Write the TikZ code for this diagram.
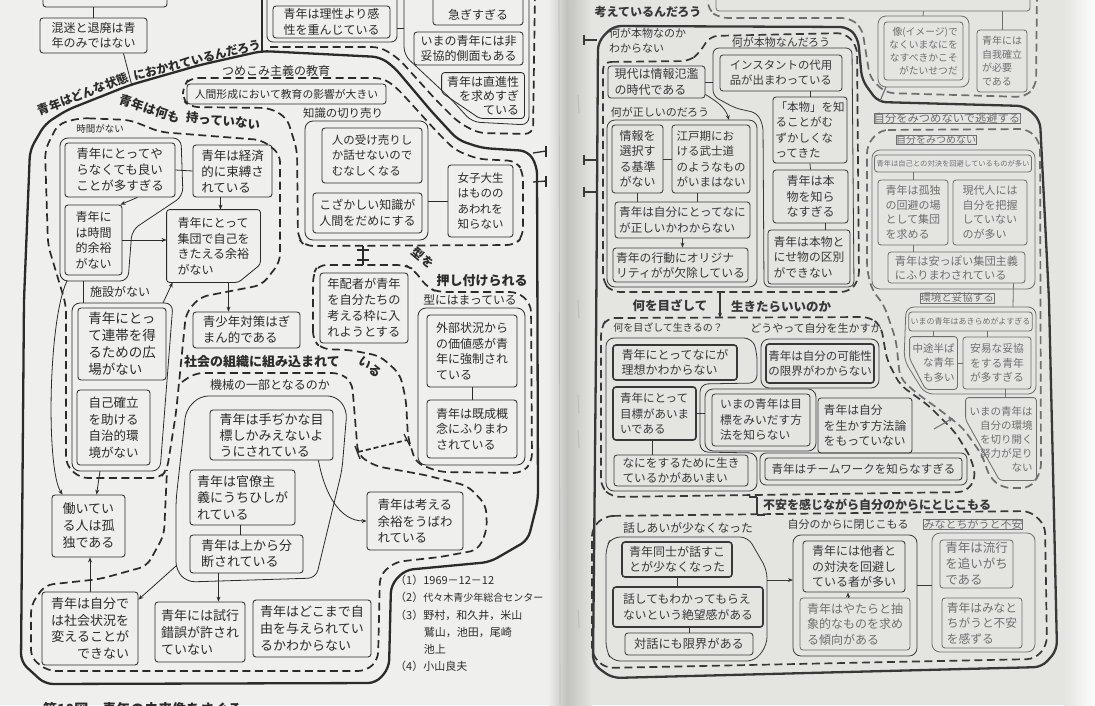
\documentclass[tikz,border=0pt]{standalone}
\usepackage{fontspec}
\newfontfamily\jp{Noto Sans CJK JP}
\usetikzlibrary{arrows.meta}
\definecolor{ink}{HTML}{2B2B2B}
\definecolor{inkr}{HTML}{383838}
\definecolor{inkf}{HTML}{6E6E6E}
\definecolor{pageL}{HTML}{EFEFED}
\definecolor{pageR}{HTML}{E4E4E1}
\definecolor{gut}{HTML}{C2C2BF}
\newcommand{\jfs}[2]{\jp\fontsize{#1}{#2}\selectfont}
\newcommand{\bxx}[7]{%
  \pgfmathsetmacro{\mybw}{#4-#2}\pgfmathsetmacro{\mybh}{#5-#3}%
  \pgfmathsetmacro{\mybx}{(#2+#4)/2}\pgfmathsetmacro{\myby}{(#3+#5)/2}%
  \node[bx,minimum width=\mybw pt,minimum height=\mybh pt,#6] (#1) at (\mybx,\myby) {#7};}
\tikzset{
  bx/.style={draw=ink, line width=0.85pt, rounded corners=3pt, inner sep=2pt, font=\jfs{12}{15.5}, text=ink, align=left},
  bxb/.style={line width=1.6pt},
  bxline/.style={draw=ink, line width=0.85pt, rounded corners=3pt},
  fd/.style={draw=inkf, text=inkf},
  grp/.style={draw=ink, line width=0.8pt, rounded corners=8pt},
  thk/.style={draw=ink, line width=2.3pt, rounded corners=8pt},
  dsh/.style={draw=ink, line width=1.7pt, dash pattern=on 8pt off 4.5pt, rounded corners=8pt},
  lbl/.style={font=\jfs{11}{13}, text=ink, inner sep=0pt},
  ttl/.style={font=\jfs{12.5}{15}\bfseries, text=ink, inner sep=0pt},
  con/.style={draw=ink, line width=0.8pt},
  arr/.style={con, -{Stealth[length=5pt,width=4pt]}},
  tick/.style={draw=ink, line width=1.3pt},
}
\begin{document}
\begin{tikzpicture}[x=1pt,y=-1pt]
\useasboundingbox (0,0) rectangle (1095,705);
% ---------- paper ----------
\fill[pageL] (0,0) rectangle (552,705);
\shade[left color=pageL, right color=gut] (548,0) rectangle (567,705);
\shade[left color=gut, right color=pageR] (567,0) rectangle (592,705);
\fill[pageR] (592,0) rectangle (1064,705);
\shade[left color=pageR, right color=white!94!pageR] (1064,0) rectangle (1095,705);
\draw[gray!55, line width=0.6pt] (559,0) -- (560,705);
\draw[gray!45, line width=0.5pt] (574,0) -- (573,705);
\foreach \yy in {95,300,395,430,610} {\draw[gray!50, line width=1.2pt] (578,\yy) -- (579,\yy+18);}

% =================== LEFT PAGE ===================
\draw[thk] (262,51) -- (380,57) -- (394,67) -- (432,112) -- (458,140) -- (482,148) -- (528,151) -- (537,166) -- (538,500) -- (528,540) -- (490,562) -- (405,570) -- (391,585) -- (389,668) -- (376,683) -- (45,684) -- (21,662) -- (24,300) -- (30,150) -- (45,124) -- (67,110) -- (130,85) -- (200,65) -- cycle;
\draw[con, line width=1.1pt] (262,0) -- (262,51);
\node[ttl, font=\jfs{12}{14}\bfseries, rotate=21] (lt1) at (83,94) {青年はどんな状態};
\node[ttl, font=\jfs{12}{14}\bfseries, rotate=14] (lt2) at (197,60) {におかれているんだろう};

\bxx{btop}{43}{-12}{167}{7}{}{}
\bxx{bkonmei}{40}{18}{147}{53}{}{混迷と退廃は青\\年のみではない}
\draw[con] (bkonmei.north) -- (bkonmei.north |- btop.south);
\coordinate (cLa) at (132,86);
\draw[con] ([xshift=30pt]bkonmei.south) -- (cLa);

\draw[grp, rounded corners=6pt] (267,-8) rectangle (397,42);
\bxx{brisei}{273}{6}{390}{38}{}{青年は理性より感\\性を重んじている}
\draw[grp] (404,-8) -- (404,55) -- (450,98) -- (472,122) -- (529,125) -- (529,-8);
\coordinate (gRiseiE) at (397,28); \coordinate (gRightW) at (404,28);
\draw[con] (gRiseiE) -- (gRightW);
\bxx{bisogi}{433}{-10}{523}{25}{}{\phantom{急}\\急ぎすぎる}
\bxx{bhidakyo}{414}{32}{523}{65}{}{いまの青年には非\\妥協的側面もある}
\bxx{bchoku}{442}{73}{524}{118}{draw=none, align=right, font=\jfs{12}{14}}{青年は直進性\\を求めすぎ\\ている}
\draw[bxline] (bchoku.north west) -- (bchoku.north east) -- (bchoku.south east) -- ([xshift=38pt]bchoku.south west) -- ([yshift=-20pt]bchoku.north west) -- cycle;
\draw[dsh] (270,47) -- (380,47) -- (398,58) -- (436,100) -- (458,122) -- (478,133) -- (533,134) -- (535,-8);

\draw[dsh] (190,78) -- (383,78) -- (397,88) -- (437,132) -- (455,150) -- (478,159) -- (516,161) -- (523,172) -- (523,236) -- (515,245) -- (305,246) -- (298,238) -- (297,150) -- (287,118) -- (270,108) -- (190,107) -- (183,100) -- (183,86) -- cycle;
\node[lbl, font=\jfs{12}{14}] (ltsume) at (276,71) {つめこみ主義の教育};
\bxx{bningen}{187}{84}{386}{104}{font=\jfs{10.8}{13}}{人間形成において教育の影響が大きい}
\node[lbl, font=\jfs{11.4}{13}] (lchishiki) at (343,113) {知識の切り売り};
\draw[grp] (305,121) rectangle (428,240);
\bxx{buke}{322}{128}{422}{183}{font=\jfs{11.5}{15.5}}{人の受け売りし\\か話せないので\\むなしくなる}
\bxx{bkozaka}{313}{193}{422}{233}{}{こざかしい知識が\\人間をだめにする}
\bxx{bjoshi}{448}{165}{513}{237}{font=\jfs{11.5}{15.5}}{女子大生\\はものの\\あわれを\\知らない}
\coordinate (gChishikiE) at (428,201);
\draw[con] (gChishikiE) -- (bjoshi.west);
\draw[tick] (533,153) -- (546,151); \draw[tick] (546,146) -- (546,157);
\draw[tick] (533,182) -- (546,181); \draw[tick] (546,176) -- (546,187);

\draw[dsh] (80,118) -- (130,120) -- (160,132) -- (262,140) -- (280,154) -- (280,262) -- (262,285) -- (200,297) -- (186,313) -- (176,413) -- (167,470) -- (160,478) -- (80,478) -- (66,465) -- (66,305) -- (48,245) -- (45,150) -- (58,124) -- cycle;
\node[ttl, font=\jfs{12.5}{14}\bfseries, rotate=-18] (lnani1) at (150,109) {青年は何も};
\node[ttl, font=\jfs{12.5}{14}\bfseries, rotate=-6] (lnani2) at (223,121) {持っていない};
\node[lbl, font=\jfs{9.5}{11}] (ljikan) at (100,129) {時間がない};
\draw[grp] (60,138) -- (181,138) -- (183,196) -- (132,230) -- (128,281) -- (60,281) -- cycle;
\bxx{byaranaku}{65}{143}{175}{197}{font=\jfs{12.5}{16}}{青年にとってや\\らなくても良い\\ことが多すぎる}
\bxx{bkeizai}{193}{145}{272}{197}{font=\jfs{12.5}{16}}{青年は経済\\的に束縛さ\\れている}
\draw[con] (byaranaku.east) -- (bkeizai.west);
\bxx{bjikan}{65}{205}{122}{275}{}{青年に\\は時間\\的余裕\\がない}
\draw[arr] ([xshift=-38pt]byaranaku.south east) -- ([xshift=-2pt]bjikan.north east);
\bxx{bshudan}{167}{210}{260}{282}{draw=none}{青年にとって\\集団で自己を\\きたえる余裕\\がない}
\draw[bxline] (bshudan.north west) -- (bshudan.north east) -- ([yshift=18pt]bshudan.south east) -- ([xshift=-22pt]bshudan.south east) -- (bshudan.south west) -- cycle;
\draw[arr] ([xshift=-12pt]bkeizai.south) -- ([xshift=-12pt]bkeizai.south |- bshudan.north);
\draw[arr] (bjikan.east) -- (bjikan.east -| bshudan.west);
\node[lbl, font=\jfs{12}{14}] (lshisetsu) at (120,292) {施設がない};
\draw[grp] (72,303) -- (173,303) -- (160,471) -- (72,471) -- cycle;
\coordinate (gJikanB) at (83,281); \coordinate (gShisetsuT) at (83,303);
\draw[con] (gJikanB) -- (gShisetsuT);
\coordinate (gShisetsuTR) at (163,303);
\draw[arr] (gShisetsuTR) -- ([xshift=6pt]bshudan.south west);
\bxx{brentai}{78}{308}{166}{380}{font=\jfs{13.5}{17}}{青年にとっ\\て連帯を得\\るための広\\場がない}
\bxx{bjiko}{77}{390}{150}{465}{font=\jfs{12.5}{16.5}}{自己確立\\を助ける\\自治的環\\境がない}
\bxx{bgimann}{193}{312}{300}{348}{font=\jfs{12.5}{16}}{青少年対策はぎ\\まん的である}
\draw[arr] ([xshift=15pt]bshudan.south) -- ([xshift=15pt]bshudan.south |- bgimann.north);

\draw[dsh] (182,382) -- (195,373) -- (340,373) -- (352,382) -- (358,455) -- (375,466) -- (425,475) -- (468,486) -- (486,505) -- (487,530) -- (478,550) -- (440,557) -- (395,562) -- (380,575) -- (378,660) -- (366,671) -- (48,671) -- (31,658) -- (31,605) -- (45,585) -- (100,579) -- (147,566) -- (164,535) -- (167,470);
\node[ttl, font=\jfs{13}{15}\bfseries] (lshakai) at (262,362) {社会の組織に組み込まれて};
\node[ttl, font=\jfs{12.5}{15}\bfseries, rotate=-40] (lshakai2) at (370,367) {いる};
\node[lbl, font=\jfs{12}{14}] (lkikai) at (270,385) {機械の一部となるのか};
\draw[grp] (200,396) -- (336,396) -- (347,410) -- (342,470) -- (316,578) -- (187,582) -- (176,570) -- (176,500) -- (186,410) -- cycle;
\bxx{btejika}{210}{410}{333}{460}{font=\jfs{13}{16}}{青年は手ぢかな目\\標しかみえないよ\\うにされている}
\bxx{bkanryo}{190}{470}{295}{525}{font=\jfs{13}{16.5}}{青年は官僚主\\義にうちひしが\\れている}
\bxx{bbundan}{190}{535}{303}{573}{font=\jfs{13}{16}}{青年は上から分\\断されている}
\draw[con] ([xshift=-2pt]bkanryo.south) -- ([xshift=-2pt]bkanryo.south |- bbundan.north);
\bxx{byoyu}{367}{492}{463}{550}{font=\jfs{12.5}{16.5}}{青年は考える\\余裕をうばわ\\れている}
\draw[arr] ([xshift=-15pt]btejika.south east) .. controls (325,495) and (340,521) .. (byoyu.west);
\bxx{bhataraku}{52}{495}{125}{557}{font=\jfs{13}{17}}{働いてい\\る人は孤\\独である}
\bxx{bjibun}{42}{592}{138}{665}{align=right, font=\jfs{13}{16.5}}{青年は自分で\\は社会状況を\\変えることが\\できない}
\bxx{bshiko}{155}{602}{245}{662}{font=\jfs{13}{17}}{青年には試行\\錯誤が許され\\ていない}
\bxx{bjiyu}{253}{600}{371}{657}{font=\jfs{13}{17}}{青年はどこまで自\\由を与えられてい\\るかわからない}
\draw[arr] (bjibun.north) -- (bjibun.north |- bhataraku.south);
\coordinate (gKikaiSW) at (176,566);
\draw[arr] (gKikaiSW) -- ([yshift=-8pt]bjibun.north east);
\draw[arr] ([xshift=-28pt]bbundan.south) -- ([xshift=-28pt]bbundan.south |- bshiko.north);
\coordinate (gJikanBL) at (67,281);
\draw[arr] (gJikanBL) .. controls (48,320) and (46,470) .. ([xshift=11pt]bhataraku.north west);
\coordinate (gShisetsuB) at (100,471);
\draw[arr] (gShisetsuB) -- ([xshift=45pt]bhataraku.north west);

\draw[dsh] (313,340) -- (313,275) -- (318,265) -- (405,265) -- (413,269) -- (428,288) -- (438,292) -- (518,292) -- (531,304) -- (532,462) -- (522,473) -- (440,472) -- (416,463) -- (408,438) -- (406,400) -- (400,374) -- (380,356) -- (350,350) -- (322,349) -- cycle;
\coordinate (cD1b) at (363,246); \coordinate (cD5t) at (363,265);
\draw[con, line width=1.2pt] (cD1b) -- (cD5t);
\draw[tick] (357,250) -- (369,250); \draw[tick] (357,260) -- (369,260);
\coordinate (cD3r) at (358,452); \coordinate (cD5l) at (407,440);
\draw[dsh, dash pattern=on 5pt off 3pt] (cD3r) -- (cD5l);
\draw[tick] (355,446) -- (360,459); \draw[tick] (404,434) -- (410,446);
\bxx{bnenpai}{320}{273}{408}{343}{font=\jfs{12.2}{16}}{年配者が青年\\を自分たちの\\考える枠に入\\れようとする}
\node[ttl, font=\jfs{12}{14}\bfseries, rotate=-40] (lkata1) at (423,258) {型を};
\node[ttl, font=\jfs{13}{15}\bfseries] (lkata2) at (482,281) {押し付けられる};
\node[lbl, font=\jfs{11.8}{14}] (lkata3) at (470,300) {型にはまっている};
\draw[grp] (418,308) rectangle (525,465);
\bxx{bgaibu}{427}{315}{517}{387}{}{外部状況から\\の価値感が青\\年に強制され\\ている}
\bxx{bkisei}{427}{400}{517}{458}{}{青年は既成概\\念にふりまわ\\されている}
\draw[con] (bgaibu.south) -- (bkisei.north);

\node[lbl, anchor=north west, align=left, font=\jfs{11}{17.2}] (notes) at (395,575) {（1）1969－12－12\\（2）{\jfs{10}{17.2}代々木青少年総合センター}\\（3）野村，和久井，米山\\\hspace*{2.6em}鷲山，池田，尾崎\\\hspace*{2.6em}池上\\（4）小山良夫};
\node[ttl, font=\jfs{14}{16}\bfseries, anchor=west] (caption) at (43,709) {第10図　青年の未来像をさぐる};

% =================== RIGHT PAGE ===================
\begin{scope}
\colorlet{ink}{inkr}
\node[ttl, font=\jfs{12}{14}\bfseries] (lkangae) at (648,12) {考えているんだろう};
\bxx{btopR}{716}{-20}{1030}{11}{fd}{}
\draw[dsh, draw=inkf] (708,-8) -- (708,10) -- (720,18) -- (850,18) -- (862,28) -- (870,78) -- (886,93) -- (1025,97) -- (1036,86) -- (1037,-8);
\draw[thk] (613,26) -- (848,27) -- (858,38) -- (862,80) -- (878,102) -- (1025,106) -- (1040,120) -- (1049,300) -- (1053,470) -- (1057,650) -- (1042,667) -- (612,678) -- (593,664) -- (596,350) -- (598,42) -- cycle;
\foreach \yy in {40,160,192} {\draw[tick] (597,\yy) -- (584,\yy); \draw[tick] (584,\yy-5) -- (584,\yy+5);}

\draw[grp, draw=inkf] (878,16) rectangle (969,87);
\bxx{bimage}{884}{22}{963}{80}{fd, align=right, font=\jfs{9.8}{13}}{像(イメージ)で\\なくいまなにを\\なすべきかこそ\\がたいせつだ}
\bxx{bjiga}{977}{30}{1027}{92}{fd, font=\jfs{10}{13.5}}{青年には\\自我確立\\が必要\\である}
\draw[con, draw=inkf] (bimage.north |- btopR.south) -- (923,16);
\draw[con, draw=inkf] (bjiga.north |- btopR.south) -- (bjiga.north);
\coordinate (gImageSW) at (886,87); \coordinate (cR0a) at (880,101);
\draw[con, draw=inkf, line width=1.1pt] (gImageSW) -- (cR0a);

\draw[dsh] (603,62) -- (690,61) -- (700,52) -- (710,36) -- (845,33) -- (857,46) -- (859,280) -- (849,292) -- (612,292) -- (603,282) -- cycle;
\node[lbl, anchor=north west, align=left, font=\jfs{11}{15}] (lhon1) at (609,28) {何が本物なのか\\わからない};
\node[lbl] (lhon2) at (781,42) {何が本物なんだろう};
\bxx{bgendai}{608}{66}{705}{98}{}{現代は情報氾濫\\の時代である}
\node[lbl] (ltadashii) at (660,112) {何が正しいのだろう};
\draw[grp] (607,120) rectangle (757,287);
\bxx{bjoho}{612}{125}{663}{193}{}{情報を\\選択す\\る基準\\がない}
\bxx{bedo}{672}{125}{750}{193}{font=\jfs{11.5}{15.5}}{江戸期にお\\ける武士道\\のようなもの\\がいまはない}
\draw[con] (bjoho.east) -- (bedo.west);
\bxx{btadashii}{615}{202}{750}{238}{font=\jfs{11.6}{15.5}}{青年は自分にとってなに\\が正しいかわからない}
\draw[con] (bjoho.south) -- (bjoho.south |- btadashii.north);
\draw[con] ([xshift=-14pt]bedo.south) -- ([xshift=-14pt]bedo.south |- btadashii.north);
\bxx{boriginal}{613}{248}{748}{282}{font=\jfs{11.8}{15}}{青年の行動にオリジナ\\リティがが欠除している}
\draw[arr] (btadashii.south) -- (btadashii.south |- boriginal.north);
\draw[grp, rounded corners=6pt] (713,48) -- (852,48) -- (854,287) -- (764,287) -- (763,125) -- (757,113) -- (735,108) -- (713,96) -- cycle;
\bxx{binstant}{720}{55}{842}{91}{font=\jfs{11.4}{15}}{インスタントの代用\\品が出まわっている}
\bxx{bhonmono}{773}{97}{847}{163}{font=\jfs{11.5}{15.5}}{「本物」を知\\ることがむ\\ずかしくな\\ってきた}
\bxx{bshira}{773}{170}{848}{223}{}{青年は本\\物を知ら\\なすぎる}
\bxx{bnise}{768}{230}{850}{284}{font=\jfs{11.8}{15.5}}{青年は本物と\\にせ物の区別\\ができない}
\draw[con] (binstant.south -| bhonmono.north) -- (bhonmono.north);
\draw[con] (bhonmono.south) -- (bshira.north);
\draw[con] ([xshift=15pt]bshira.south) -- ([xshift=15pt]bshira.south |- bnise.north);
\coordinate (gHonW) at (713,82);
\draw[con] (bgendai.east) -- (gHonW);
\coordinate (gTadN) at (729,120);
\draw[arr] ([yshift=4pt]bgendai.south east) .. controls (714,100) and (725,106) .. (gTadN);

\coordinate (cR1b) at (720,292); \coordinate (cR2t) at (720,318);
\draw[arr, line width=1.2pt] (cR1b) -- (cR2t);
\node[ttl] (lmeza) at (670,306) {何を目ざして};
\node[ttl] (likita) at (781,307) {生きたらいいのか};

\draw[dsh] (607,318) -- (870,317) -- (881,326) -- (887,360) -- (900,385) -- (928,405) -- (955,432) -- (971,458) -- (976,478) -- (966,492) -- (612,497) -- (601,487) -- (601,328) -- cycle;
\node[lbl, font=\jfs{10}{12}] (lmeza2) at (668,328) {何を目ざして生きるの？};
\node[lbl] (ldou) at (816,328) {どうやって自分を生かすか};
\draw[grp] (606,338) -- (752,338) -- (757,352) -- (757,383) -- (700,384) -- (700,452) -- (757,453) -- (757,491) -- (606,491) -- cycle;
\bxx{briso}{613}{345}{737}{380}{bxb}{青年にとってなにが\\理想かわからない}
\bxx{bmoku}{613}{387}{696}{440}{bxb, font=\jfs{11.5}{15.5}}{青年にとって\\目標があいま\\いである}
\draw[grp] (705,389) rectangle (816,451);
\bxx{bmoku2}{712}{394}{810}{446}{font=\jfs{11.7}{15.5}}{いまの青年は目\\標をみいだす方\\法を知らない}
\coordinate (gMoku2W) at (705,413.5);
\draw[con] (bmoku.east) -- (gMoku2W);
\bxx{bnaniwo}{614}{455}{748}{486}{font=\jfs{11.7}{14.5}}{なにをするために生き\\ているかがあいまい}
\draw[con] ([xshift=-2pt]bmoku.south) -- ([xshift=-2pt]bmoku.south |- bnaniwo.north);
\draw[grp] (761,339) rectangle (879,388);
\bxx{bkanosei}{766}{344}{874}{383}{bxb, font=\jfs{11.5}{15}}{青年は自分の可能性\\の限界がわからない}
\bxx{bhoho}{818}{398}{912}{453}{font=\jfs{11.8}{15.5}}{青年は自分\\を生かす方法論\\をもっていない}
\draw[grp, rounded corners=6pt] (760,453) rectangle (967,485);
\bxx{bteam}{765}{458}{962}{480}{font=\jfs{11.5}{13}}{青年はチームワークを知らなすぎる}

\node[lbl, fd, font=\jfs{11.3}{13}] (ltohi) at (947,118) {自分をみつめないで逃避する};
\draw[dsh, draw=inkf] (880,130) -- (1028,129) -- (1040,142) -- (1041,472) -- (1030,488) -- (1003,488) -- (990,478) -- (982,455) -- (963,428) -- (940,410) -- (915,392) -- (900,378) -- (896,340) -- (884,305) -- (872,290) -- (867,270) -- (867,145) -- cycle;
\node[lbl, fd, font=\jfs{10}{12}] (lmitsu) at (936,140) {自分をみつめない};
\draw[grp, draw=inkf] (872,150) rectangle (1035,289);
\bxx{btaiketsu}{877}{155}{1029}{172}{fd, font=\jfs{7.3}{9}}{青年は自己との対決を回避しているものが多い}
\bxx{bkodoku}{878}{180}{948}{245}{fd, font=\jfs{11}{14.5}}{青年は孤独\\の回避の場\\として集団\\を求める}
\bxx{bgendaijin}{953}{180}{1027}{245}{fd, font=\jfs{11}{14.5}}{現代人には\\自分を把握\\していない\\のが多い}
\bxx{byasu}{888}{252}{1025}{283}{fd, font=\jfs{11.2}{14}}{青年は安っぽい集団主義\\にふりまわされている}
\draw[con, draw=inkf] (btaiketsu.south -| bkodoku.north) -- (bkodoku.north);
\draw[con, draw=inkf] (bkodoku.south) -- (bkodoku.south |- byasu.north);
\node[lbl, fd, font=\jfs{10.5}{12}] (lkankyo) at (957,298) {環境と妥協する};
\coordinate (gKankyoN) at (1013,307);
\draw[con, draw=inkf] ([xshift=-12pt]byasu.south east) -- (gKankyoN);
\draw[grp, draw=inkf] (906,307) -- (1036,307) -- (1036,394) -- (925,394) -- (904,360) -- cycle;
\bxx{bakira}{909}{312}{1032}{331}{fd, font=\jfs{8}{10}}{いまの青年はあきらめがよすぎる}
\bxx{bchuto}{910}{337}{957}{389}{fd, draw=none, align=right, font=\jfs{10.5}{14.5}}{中途半ぱ\\な青年\\も多い}
\draw[bxline, draw=inkf] (bchuto.north west) -- (bchuto.north east) -- (bchuto.south east) -- ([xshift=16pt]bchuto.south west) -- ([yshift=-22pt]bchuto.north west) -- cycle;
\bxx{banni}{963}{337}{1031}{389}{fd, font=\jfs{10.8}{14.5}}{安易な妥協\\をする青年\\が多すぎる}
\draw[con, draw=inkf] (bakira.south -| bchuto.north) -- (bchuto.north);
\draw[con, draw=inkf] ([xshift=-10pt]bakira.south -| banni.north) -- ([xshift=-10pt]banni.north);
\draw[con, draw=inkf] (bchuto.east) -- (banni.west);
\bxx{bkiri}{966}{398}{1036}{480}{fd, draw=none, align=right, font=\jfs{10.5}{14}}{いまの青年は\\自分の環境\\を切り開く\\努力が足り\\ない}
\draw[bxline, draw=inkf] (bkiri.north west) -- (bkiri.north east) -- (bkiri.south east) -- ([xshift=34pt]bkiri.south west) -- ([yshift=-22pt]bkiri.north west) -- cycle;
\draw[con, draw=inkf] ([xshift=8pt]banni.south) -- ([xshift=8pt]banni.south |- bkiri.north);
\coordinate (cR3x) at (934,429); \coordinate (cR2x) at (953,418);
\draw[arr, draw=inkf, line width=1pt] (cR3x) -- (cR2x);

\coordinate (cR2b) at (757,497); \coordinate (cR4t) at (757,515);
\draw[con, line width=1.2pt] (cR2b) -- (cR4t);
\draw[tick] (749,497) -- (757,497); \draw[tick] (757,515) -- (765,515);
\node[ttl, font=\jfs{12}{14}\bfseries] (lfuan) at (877,505) {不安を感じながら自分のからにとじこもる};
\draw[dsh] (605,516) -- (1030,511) -- (1045,525) -- (1047,645) -- (1035,659) -- (605,668) -- (592,655) -- (592,528) -- cycle;
\node[lbl, font=\jfs{11.8}{13}] (lhana) at (688,528) {話しあいが少なくなった};
\node[lbl] (lkara) at (848,524) {自分のからに閉じこもる};
\node[lbl, fd] (lminato) at (973,524) {みなとちがうと不安};
\draw[grp] (612,537) -- (748,537) -- (767,570) -- (767,645) -- (755,661) -- (612,661) -- (606,650) -- (606,547) -- cycle;
\draw[grp] (793,535) rectangle (917,656);
\draw[grp, draw=inkf] (932,533) rectangle (1035,652);
\bxx{bhanasu}{622}{542}{732}{577}{bxb}{青年同士が話すこ\\とが少なくなった}
\bxx{bzetsu}{613}{587}{763}{627}{bxb, font=\jfs{11.8}{15.5}}{話してもわかってもらえ\\ないという絶望感がある}
\bxx{btaiwa}{625}{633}{753}{655}{font=\jfs{12.2}{14}}{対話にも限界がある}
\draw[con] (bhanasu.south) -- (bhanasu.south |- bzetsu.north);
\draw[con] (bzetsu.south -| btaiwa.north) -- (btaiwa.north);
\coordinate (gHanaE) at (767,580); \coordinate (gKaraW) at (793,580);
\draw[arr] (gHanaE) -- (gKaraW);
\bxx{btasha}{803}{541}{905}{592}{}{青年には他者と\\の対決を回避し\\ている者が多い}
\bxx{bchusho}{800}{598}{910}{650}{fd}{青年はやたらと抽\\象的なものを求め\\る傾向がある}
\draw[arr] ([xshift=-7pt]bchusho.north) -- ([xshift=-7pt]bchusho.north |- btasha.south);
\coordinate (gKaraE) at (917,585); \coordinate (gMinaW) at (932,585);
\draw[con] (gKaraE) -- (gMinaW);
\bxx{bryuko}{940}{540}{1013}{588}{fd, font=\jfs{12.5}{16}}{青年は流行\\を追いがち\\である}
\bxx{bfuan}{942}{598}{1022}{648}{fd, font=\jfs{11.7}{15.5}}{青年はみなと\\ちがうと不安\\を感ずる}
\end{scope}
\end{tikzpicture}
\end{document}
